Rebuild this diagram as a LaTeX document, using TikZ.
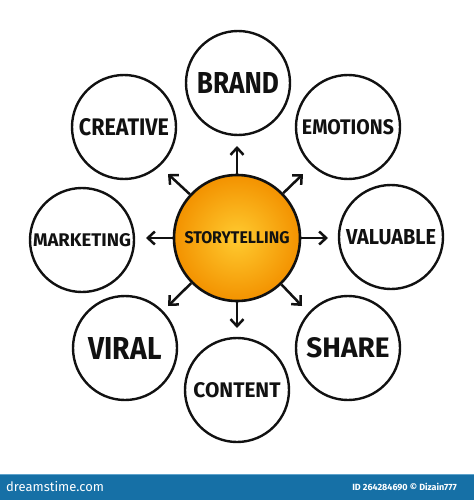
\documentclass[tikz,border=0pt]{standalone}
\usepackage{graphicx}
\usepackage{fontspec}
\setmainfont{Fira Sans}
\usetikzlibrary{arrows.meta}
\definecolor{barblue}{HTML}{1670A6}
\definecolor{barline}{HTML}{5FA3CC}
\definecolor{orin}{HTML}{FFCB30}
\definecolor{orout}{HTML}{F39200}
\definecolor{ink}{HTML}{111111}
\newcommand{\lbl}[3]{\resizebox{#2pt}{#3pt}{\bfseries #1}}
\begin{document}
\begin{tikzpicture}[x=1pt,y=-1pt,
 bubble/.style={circle,draw=ink,line width=2.4pt,minimum size=104pt,inner sep=0pt,fill=white,text=ink},
 hub/.style={circle,draw=ink,line width=2.6pt,minimum size=126pt,inner sep=0pt,inner color=orin,outer color=orout,text=ink},
 arr/.style={draw=ink,line width=2.5pt,-{Straight Barb[length=7pt,width=13pt,line width=2.5pt]}},
]
\useasboundingbox (0,0) rectangle (474,500);
\fill[white] (0,0) rectangle (474,500);
% hub
\node[hub] (c) at (237,238) {\lbl{STORYTELLING}{105}{12}};
% outer bubbles
\node[bubble] (brand) at (238,83) {\lbl{BRAND}{82}{21}};
\node[bubble] (creative) at (124,127) {\lbl{CREATIVE}{90}{17}};
\node[bubble] (emotions) at (348,127) {\lbl{EMOTIONS}{92}{15}};
\node[bubble] (marketing) at (82,240) {\lbl{MARKETING}{98}{13}};
\node[bubble] (valuable) at (391,237) {\lbl{VALUABLE}{90}{15}};
\node[bubble] (viral) at (125,348) {\lbl{VIRAL}{73}{22}};
\node[bubble] (share) at (348,348) {\lbl{SHARE}{83}{20}};
\node[bubble] (content) at (237,390) {\lbl{CONTENT}{87}{15}};
% arrow tips
\coordinate (tU) at (237,146);
\coordinate (tD) at (237,328);
\coordinate (tL) at (146,238);
\coordinate (tR) at (328,238);
\coordinate (tUL) at (168,174);
\coordinate (tUR) at (303,174);
\coordinate (tDL) at (168,306);
\coordinate (tDR) at (302,306);
\foreach \t in {tU,tD,tL,tR,tUL,tUR,tDL,tDR}
  \draw[arr] (c) -- (\t);
% bottom bar
\fill[barblue] (0,474) rectangle (474,500);
\draw[barline,line width=1pt] (0,474) -- (474,474);
\node[anchor=west,text=white,inner sep=0pt,font=\fontsize{13}{13}\selectfont] (logo) at (6,487) {dreamstime.com};
\node[anchor=east,text=white,inner sep=0pt,font=\bfseries\fontsize{9}{9}\selectfont] (credit) at (457,487) {ID 264284690 © Dizain777};
\end{tikzpicture}
\end{document}
